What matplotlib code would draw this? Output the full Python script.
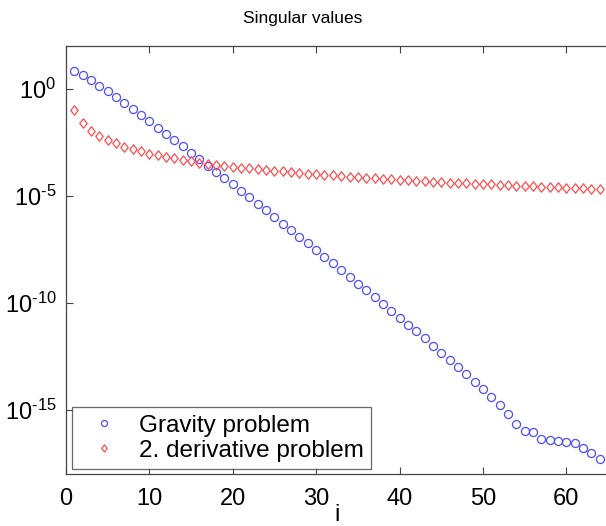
import numpy as np
import matplotlib
matplotlib.use("Agg")
import matplotlib.pyplot as plt
from matplotlib.ticker import FixedLocator, FuncFormatter
from matplotlib.path import Path

plt.rcParams['font.family'] = ['Liberation Sans', 'DejaVu Sans']
plt.rcParams['mathtext.fontset'] = 'custom'
plt.rcParams['mathtext.rm'] = 'Liberation Sans'
plt.rcParams['mathtext.it'] = 'Liberation Sans'

# --- data (log10 of singular values) ---
index = list(range(1, 65))
gravity_log10 = [0.81, 0.62, 0.41, 0.14, -0.13, -0.41, -0.67, -0.97, -1.25, -1.51,
                 -1.82, -2.10, -2.40, -2.70, -2.99, -3.29, -3.60, -3.89, -4.17, -4.47,
                 -4.78, -5.06, -5.39, -5.69, -6.00, -6.31, -6.60, -6.92, -7.23, -7.54,
                 -7.85, -8.16, -8.49, -8.79, -9.11, -9.42, -9.73, -10.05, -10.37, -10.71,
                 -11.03, -11.32, -11.67, -12.01, -12.34, -12.66, -13.00, -13.35, -13.69, -14.05,
                 -14.41, -14.77, -15.19, -15.67, -15.97, -16.04, -16.36, -16.39, -16.45, -16.50,
                 -16.54, -16.78, -17.01, -17.28]
deriv2_log10 = [-1.00, -1.60, -1.96, -2.23, -2.40, -2.56, -2.71, -2.82, -2.93, -3.04,
                -3.12, -3.19, -3.26, -3.32, -3.38, -3.46, -3.52, -3.57, -3.61, -3.66,
                -3.69, -3.72, -3.76, -3.80, -3.84, -3.87, -3.90, -3.94, -3.97, -4.00,
                -4.02, -4.05, -4.08, -4.11, -4.13, -4.16, -4.19, -4.21, -4.24, -4.26,
                -4.29, -4.31, -4.33, -4.35, -4.37, -4.39, -4.41, -4.43, -4.45, -4.47,
                -4.48, -4.50, -4.52, -4.53, -4.55, -4.57, -4.58, -4.60, -4.61, -4.63,
                -4.64, -4.65, -4.67, -4.68]
series_names = ["Gravity problem", "2. derivative problem"]
x_ticks = [0, 10, 20, 30, 40, 50, 60]
y_tick_exps = [0, -5, -10, -15]

gravity = np.power(10.0, gravity_log10)
deriv2 = np.power(10.0, deriv2_log10)

W, H = 606, 526
fig = plt.figure(figsize=(W / 100, H / 100), dpi=100)
ax = fig.add_axes([66 / W, 52 / H, 542 / W, (474 - 45.7) / H])

diamond = Path([(0, 1), (0.78, 0), (0, -1), (-0.78, 0), (0, 1)],
               [Path.MOVETO, Path.LINETO, Path.LINETO, Path.LINETO, Path.CLOSEPOLY])

ax.semilogy(index, gravity, linestyle='none', marker='o', markersize=5.8,
            markerfacecolor='none', markeredgecolor=(0.3, 0.3, 1.0),
            markeredgewidth=0.9, label=series_names[0])
ax.semilogy(index, deriv2, linestyle='none', marker=diamond, markersize=6.8,
            markerfacecolor='none', markeredgecolor=(1.0, 0.3, 0.3),
            markeredgewidth=0.9, label=series_names[1])

ax.set_xlim(0, 65)
ax.set_ylim(1e-18, 1e2)
ax.xaxis.set_major_locator(FixedLocator(x_ticks))
ax.yaxis.set_major_locator(FixedLocator([10.0 ** e for e in y_tick_exps]))
ax.yaxis.set_minor_locator(FixedLocator([]))
ax.yaxis.set_major_formatter(FuncFormatter(
    lambda v, p: r'$\mathregular{10^{\text{%d}}}$' % int(round(np.log10(v)))))

ax.tick_params(axis='both', which='major', direction='in', length=5, width=0.8,
               labelsize=17, top=True, right=False, color='#444444')
ax.tick_params(axis='x', pad=10)
ax.tick_params(axis='y', pad=7)
for side in ['left', 'bottom', 'top']:
    ax.spines[side].set_color('#444444')
    ax.spines[side].set_linewidth(0.9)
ax.spines['right'].set_visible(False)

ax.set_xlabel('i', fontsize=17, labelpad=-4)
fig.text(0.5, 1 - 18 / H, 'Singular values', ha='center', va='center', fontsize=12.5)

leg = ax.legend(loc='lower left', bbox_to_anchor=(6 / 542, 5 / 428.3),
                borderaxespad=0, prop={'size': 17.5}, frameon=True, fancybox=False,
                edgecolor='#444444', handlelength=2.0, handletextpad=0.45,
                borderpad=0.3, labelspacing=0.12, markerscale=0.75)
leg.get_frame().set_linewidth(0.9)

fig.savefig('out.png', dpi=100)
